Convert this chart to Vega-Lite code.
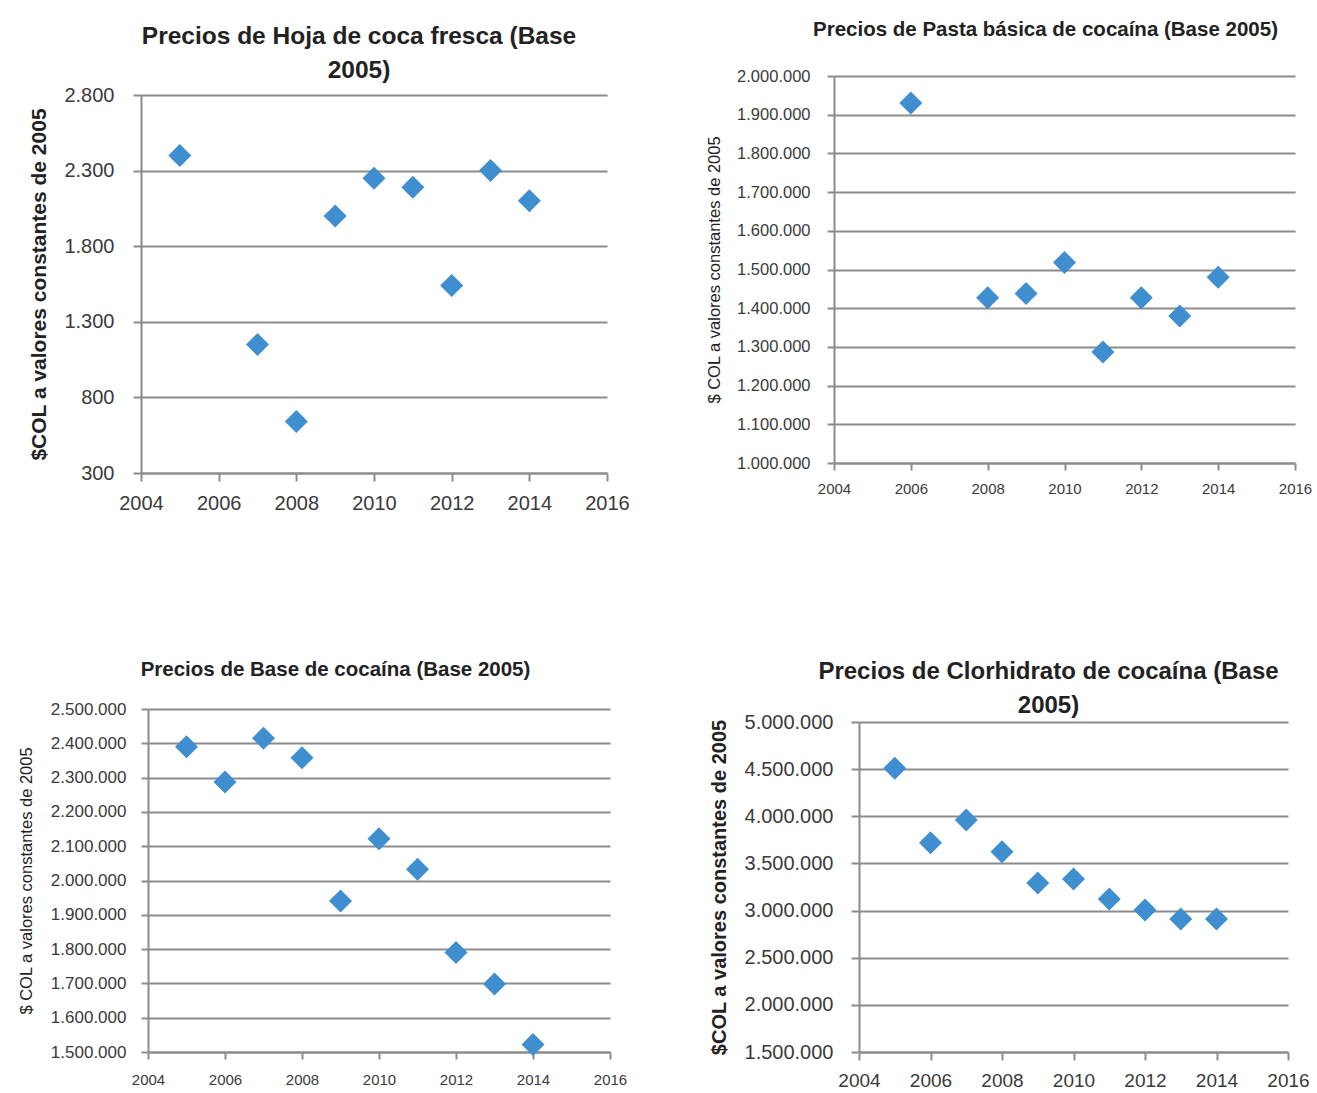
{
  "$schema": "https://vega.github.io/schema/vega-lite/v6.json",
  "background": "white",
  "padding": {"left": 18, "top": 19, "right": 5, "bottom": 0},
  "config": {
    "locale": {"number": {"decimal": ",", "thousands": ".", "grouping": [3], "currency": ["$", ""]}},
    "view": {"stroke": null},
    "font": "Liberation Sans",
    "axis": {
      "domainColor": "#8c8c8c", "domainWidth": 2,
      "tickColor": "#8c8c8c", "tickWidth": 2, "tickSize": 8,
      "gridColor": "#8c8c8c", "gridWidth": 2,
      "labelColor": "#3a3a3a", "titleColor": "#222222",
      "labelFont": "Liberation Sans", "titleFont": "Liberation Sans",
      "labelFlush": false, "labelOverlap": false
    },
    "title": {"font": "Liberation Sans", "color": "#222222", "anchor": "middle", "frame": "group"}
  },
  "datasets": {
    "hoja": [
      {"year": 2005, "price": 2400}, {"year": 2007, "price": 1150}, {"year": 2008, "price": 640},
      {"year": 2009, "price": 2000}, {"year": 2010, "price": 2250}, {"year": 2011, "price": 2190},
      {"year": 2012, "price": 1540}, {"year": 2013, "price": 2300}, {"year": 2014, "price": 2100}
    ],
    "pasta": [
      {"year": 2006, "price": 1930000}, {"year": 2008, "price": 1427000}, {"year": 2009, "price": 1438000},
      {"year": 2010, "price": 1518000}, {"year": 2011, "price": 1287000}, {"year": 2012, "price": 1427000},
      {"year": 2013, "price": 1380000}, {"year": 2014, "price": 1480000}
    ],
    "base": [
      {"year": 2005, "price": 2390000}, {"year": 2006, "price": 2287000}, {"year": 2007, "price": 2415000},
      {"year": 2008, "price": 2358000}, {"year": 2009, "price": 1940000}, {"year": 2010, "price": 2122000},
      {"year": 2011, "price": 2033000}, {"year": 2012, "price": 1790000}, {"year": 2013, "price": 1698000},
      {"year": 2014, "price": 1522000}
    ],
    "clor": [
      {"year": 2005, "price": 4510000}, {"year": 2006, "price": 3720000}, {"year": 2007, "price": 3960000},
      {"year": 2008, "price": 3625000}, {"year": 2009, "price": 3292000}, {"year": 2010, "price": 3335000},
      {"year": 2011, "price": 3123000}, {"year": 2012, "price": 3006000}, {"year": 2013, "price": 2911000},
      {"year": 2014, "price": 2911000}
    ]
  },
  "spacing": 76,
  "hconcat": [
    {
      "spacing": 146,
      "vconcat": [
        {
          "width": 466, "height": 397,
          "title": {"text": ["Precios de Hoja de coca fresca (Base", "2005)"], "fontSize": 24.5, "fontWeight": "bold", "lineHeight": 34, "offset": -7, "dx": -15},
          "data": {"name": "hoja"},
          "mark": {"type": "point", "shape": "diamond", "filled": true, "size": 530, "color": "#3F8ECF", "opacity": 1},
          "encoding": {
            "x": {"field": "year", "type": "quantitative",
                  "scale": {"domain": [2004, 2016], "nice": false, "zero": false},
                  "axis": {"values": [2004, 2006, 2008, 2010, 2012, 2014, 2016], "format": "d", "grid": false, "title": null, "labelFontSize": 20, "labelPadding": 12}},
            "y": {"field": "price", "type": "quantitative",
                  "scale": {"domain": [300, 2800], "nice": false, "zero": false, "range": [397, 19]},
                  "axis": {"values": [300, 800, 1300, 1800, 2300, 2800], "format": ",d", "title": "$COL a valores constantes de 2005", "titleFontSize": 21, "titleFontWeight": "bold", "labelFontSize": 20, "labelPadding": 19, "titlePadding": 14}}
          }
        },
        {
          "width": 469, "height": 343,
          "title": {"text": "Precios de Base de cocaína (Base 2005)", "fontSize": 20.5, "fontWeight": "bold", "offset": 20, "dx": -40},
          "data": {"name": "base"},
          "mark": {"type": "point", "shape": "diamond", "filled": true, "size": 530, "color": "#3F8ECF", "opacity": 1},
          "encoding": {
            "x": {"field": "year", "type": "quantitative",
                  "scale": {"domain": [2004, 2016], "nice": false, "zero": false, "range": [7, 469]},
                  "axis": {"values": [2004, 2006, 2008, 2010, 2012, 2014, 2016], "format": "d", "grid": false, "title": null, "labelFontSize": 15, "labelPadding": 13, "tickSize": 7}},
            "y": {"field": "price", "type": "quantitative",
                  "scale": {"domain": [1500000, 2500000], "nice": false, "zero": false},
                  "axis": {"offset": -7, "values": [1500000, 1600000, 1700000, 1800000, 1900000, 2000000, 2100000, 2200000, 2300000, 2400000, 2500000], "format": ",d", "title": "$ COL a valores constantes de 2005", "titleFontSize": 16.5, "titleFontWeight": "normal", "labelFontSize": 17, "labelPadding": 15, "titlePadding": 16, "tickSize": 7}}
          }
        }
      ]
    },
    {
      "spacing": 164,
      "vconcat": [
        {
          "width": 461, "height": 387,
          "title": {"text": "Precios de Pasta básica de cocaína (Base 2005)", "fontSize": 20.5, "fontWeight": "bold", "offset": 28, "dx": -19},
          "data": {"name": "pasta"},
          "mark": {"type": "point", "shape": "diamond", "filled": true, "size": 530, "color": "#3F8ECF", "opacity": 1},
          "encoding": {
            "x": {"field": "year", "type": "quantitative",
                  "scale": {"domain": [2004, 2016], "nice": false, "zero": false},
                  "axis": {"values": [2004, 2006, 2008, 2010, 2012, 2014, 2016], "format": "d", "grid": false, "title": null, "labelFontSize": 15, "labelPadding": 11, "tickSize": 7}},
            "y": {"field": "price", "type": "quantitative",
                  "scale": {"domain": [1000000, 2000000], "nice": false, "zero": false},
                  "axis": {"values": [1000000, 1100000, 1200000, 1300000, 1400000, 1500000, 1600000, 1700000, 1800000, 1900000, 2000000], "format": ",d", "title": "$ COL a valores constantes de 2005", "titleFontSize": 16.5, "titleFontWeight": "normal", "labelFontSize": 16.5, "labelPadding": 17, "titlePadding": 14, "tickSize": 7}}
          }
        },
        {
          "width": 454, "height": 330,
          "title": {"text": ["Precios de Clorhidrato de cocaína (Base", "2005)"], "fontSize": 24, "fontWeight": "bold", "lineHeight": 34, "offset": -6, "dx": -12.5},
          "data": {"name": "clor"},
          "mark": {"type": "point", "shape": "diamond", "filled": true, "size": 530, "color": "#3F8ECF", "opacity": 1},
          "encoding": {
            "x": {"field": "year", "type": "quantitative",
                  "scale": {"domain": [2004, 2016], "nice": false, "zero": false, "range": [25, 454]},
                  "axis": {"values": [2004, 2006, 2008, 2010, 2012, 2014, 2016], "format": "d", "grid": false, "title": null, "labelFontSize": 19, "labelPadding": 11}},
            "y": {"field": "price", "type": "quantitative",
                  "scale": {"domain": [1500000, 5000000], "nice": false, "zero": false},
                  "axis": {"offset": -25, "values": [1500000, 2000000, 2500000, 3000000, 3500000, 4000000, 4500000, 5000000], "format": ",d", "title": "$COL a valores constantes de 2005", "titleFontSize": 20, "titleFontWeight": "bold", "labelFontSize": 20, "labelPadding": 18, "titlePadding": 15}}
          }
        }
      ]
    }
  ]
}
